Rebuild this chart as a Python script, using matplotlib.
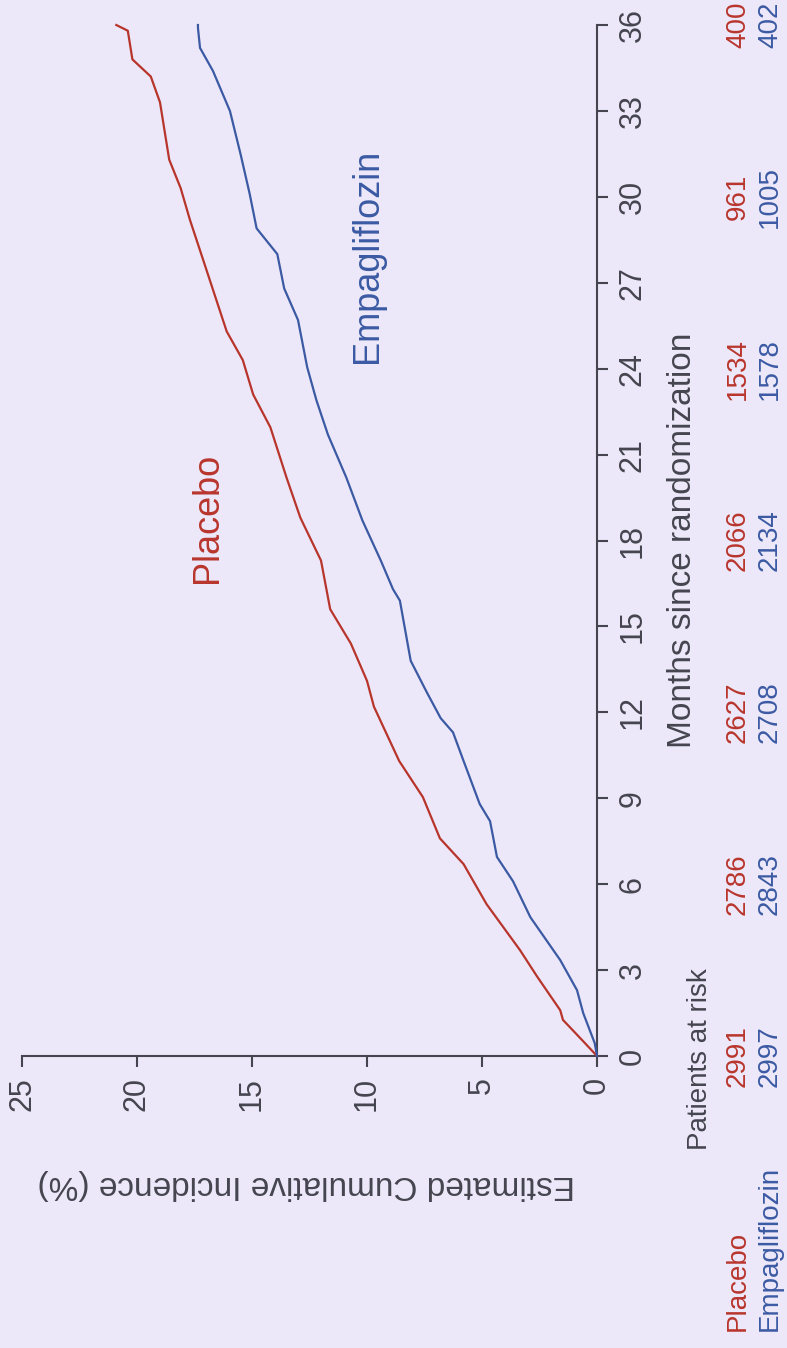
import numpy as np
import matplotlib
matplotlib.use("Agg")
import matplotlib.pyplot as plt

plt.rcParams['font.family'] = ['Liberation Sans', 'DejaVu Sans']

# Кривые кумулятивной частоты (месяцы, %)
placebo_months = [0, 0.6, 1.26, 1.6, 2.77, 3.7, 5.3, 6.7, 7.6, 9.04, 10.3, 12.2, 13.1,
                  14.4, 15.6, 17.3, 18.8, 20.2, 21.95, 23.1, 24.3, 25.3, 27.4, 29.2,
                  30.3, 31.3, 33.3, 34.2, 34.8, 35.8, 36.0]
placebo_pct = [0, 0.7, 1.48, 1.6, 2.6, 3.35, 4.8, 5.8, 6.83, 7.57, 8.6, 9.7, 10.0,
               10.7, 11.6, 12.0, 12.9, 13.5, 14.2, 14.95, 15.4, 16.1, 16.96, 17.7,
               18.1, 18.6, 19.0, 19.4, 20.2, 20.4, 20.9]

empa_months = [0, 0.45, 1.5, 2.3, 3.35, 4.85, 6.1, 6.95, 8.2, 8.8, 10.3, 11.3, 11.8,
               12.7, 13.8, 15.9, 16.3, 17.3, 18.7, 20.2, 21.7, 22.9, 24.05, 25.7,
               26.8, 28.0, 28.9, 30.1, 31.5, 33.0, 34.4, 35.2, 35.9, 36.0]
empa_pct = [0, 0.1, 0.6, 0.87, 1.6, 2.9, 3.65, 4.35, 4.65, 5.1, 5.8, 6.26, 6.8,
            7.4, 8.1, 8.57, 8.87, 9.4, 10.2, 10.9, 11.7, 12.2, 12.6, 13.0,
            13.6, 13.9, 14.8, 15.1, 15.5, 15.96, 16.7, 17.26, 17.35, 17.35]

# Пациенты под наблюдением
risk_months = [0, 6, 12, 18, 24, 30, 36]
risk_placebo = [2991, 2786, 2627, 2066, 1534, 961, 400]
risk_empa = [2997, 2843, 2708, 2134, 1578, 1005, 402]

month_ticks = list(range(0, 37, 3))
pct_ticks = [0, 5, 10, 15, 20, 25]

bg = '#ECE8F9'
red = '#B8352C'
blue = '#3B5AA3'
grey = '#45454F'

W, H = 787, 1348
fig = plt.figure(figsize=(W / 100, H / 100), dpi=100, facecolor=bg)

# Оси повернуты: по горизонтали проценты (25 слева, 0 справа), по вертикали месяцы
left, right = 22, 597
top, bottom = 25, 1056
ax = fig.add_axes([left / W, 1 - bottom / H, (right - left) / W, (bottom - top) / H])
ax.set_facecolor(bg)
ax.set_xlim(25, 0)
ax.set_ylim(0, 36)

ax.plot(placebo_pct, placebo_months, color=red, lw=1.6, clip_on=False, zorder=3)
ax.plot(empa_pct, empa_months, color=blue, lw=1.6, clip_on=False, zorder=3)

for s in ['left', 'top']:
    ax.spines[s].set_visible(False)
for s in ['right', 'bottom']:
    ax.spines[s].set_color(grey)
    ax.spines[s].set_linewidth(1.5)

ax.set_xticks(pct_ticks)
ax.set_yticks(month_ticks)
ax.yaxis.tick_right()
ax.tick_params(axis='both', colors=grey, length=8, width=1.5, direction='out',
               labelsize=22, labelcolor=grey, pad=7)
ax.tick_params(axis='x', labelrotation=90)
ax.tick_params(axis='y', labelrotation=90)
for lab in ax.get_yticklabels():
    lab.set_va('center')

# Подписи осей
ax.text(1.148, 0.5, 'Months since randomization', transform=ax.transAxes,
        rotation=90, ha='center', va='center', fontsize=24, color=grey)
ax.text(0.495, -0.125, 'Estimated Cumulative Incidence (%)', transform=ax.transAxes,
        rotation=180, ha='center', va='center', fontsize=24, color=grey)

# Подписи кривых
ax.text(16.95, 18.8, 'Placebo', rotation=90, ha='center', va='center',
        fontsize=26, color=red)
ax.text(10.0, 27.95, 'Empagliflozin', rotation=90, ha='center', va='center',
        fontsize=26, color=blue)

# Таблица числа пациентов под риском
trans = ax.get_yaxis_transform()
x_red = (738 - left) / (right - left)
x_blue = (770 - left) / (right - left)
x_hdr = (700 - left) / (right - left)
ax.text(x_hdr, -3.28, 'Patients at risk', transform=trans, rotation=90,
        ha='center', va='bottom', fontsize=20, color=grey, clip_on=False)
for m, p, e in zip(risk_months, risk_placebo, risk_empa):
    ax.text(x_red, m, str(p), transform=trans, rotation=90, ha='center',
            va='center', fontsize=20, color=red, clip_on=False)
    ax.text(x_blue, m, str(e), transform=trans, rotation=90, ha='center',
            va='center', fontsize=20, color=blue, clip_on=False)
ax.text(x_red, -9.6, 'Placebo', transform=trans, rotation=90, ha='center',
        va='bottom', fontsize=20, color=red, clip_on=False)
ax.text(x_blue, -9.6, 'Empagliflozin', transform=trans, rotation=90, ha='center',
        va='bottom', fontsize=20, color=blue, clip_on=False)

fig.savefig('out.png', dpi=100, facecolor=bg)
